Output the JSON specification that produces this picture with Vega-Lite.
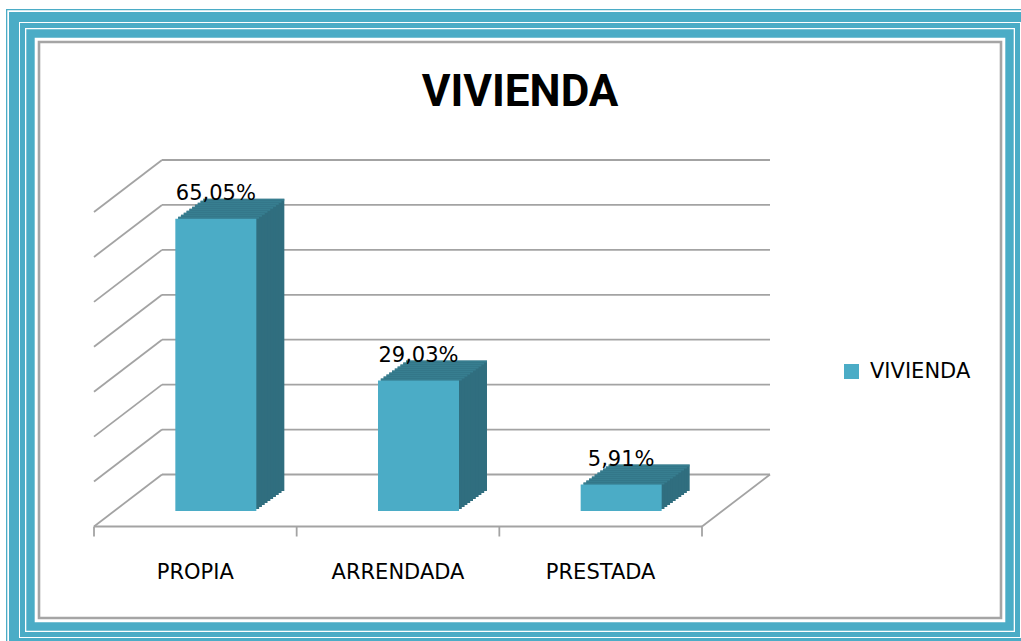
{
  "$schema": "https://vega.github.io/schema/vega-lite/v6.json",
  "width": 1028,
  "height": 642,
  "autosize": {"type": "none"},
  "padding": {"left": 6, "top": 9, "right": -13, "bottom": -10},
  "background": "#FFFFFF",
  "title": {
    "text": "VIVIENDA",
    "font": "Roboto",
    "fontWeight": "bold",
    "fontSize": 44,
    "color": "#000000",
    "anchor": "middle",
    "frame": "group",
    "baseline": "alphabetic",
    "offset": -141
  },
  "config": {
    "view": {"stroke": null},
    "axis": {"disable": true},
    "legend": {
      "orient": "none",
      "legendX": 835,
      "legendY": 352,
      "symbolType": "square",
      "symbolSize": 225,
      "symbolStrokeWidth": 0,
      "labelFont": "DejaVu Sans",
      "labelFontSize": 21,
      "labelColor": "#000000",
      "labelOffset": 8,
      "padding": 0
    }
  },
  "datasets": {
    "bars": [
      {"cat": "PROPIA", "v": 65.05, "label": "65,05%"},
      {"cat": "ARRENDADA", "v": 29.03, "label": "29,03%"},
      {"cat": "PRESTADA", "v": 5.91, "label": "5,91%"}
    ],
    "levels": [{"v": 0}, {"v": 10}, {"v": 20}, {"v": 30}, {"v": 40}, {"v": 50}, {"v": 60}, {"v": 70}],
    "frame": [{"f": 1}]
  },
  "layer": [
    {"data": {"name": "frame"}, "mark": {"type": "rect", "color": "#4BACC6"}, "encoding": {"x": {"value": 0}, "x2": {"value": {"expr": "width"}}, "y": {"value": 0}, "y2": {"value": {"expr": "height"}}}},
    {"data": {"name": "frame"}, "mark": {"type": "rect", "color": "#FFFFFF", "xOffset": 1.3, "x2Offset": -1.3, "yOffset": 1.3, "y2Offset": -1.3}, "encoding": {"x": {"value": 0}, "x2": {"value": {"expr": "width"}}, "y": {"value": 0}, "y2": {"value": {"expr": "height"}}}},
    {"data": {"name": "frame"}, "mark": {"type": "rect", "color": "#4BACC6", "xOffset": 3, "x2Offset": -3, "yOffset": 3, "y2Offset": -3}, "encoding": {"x": {"value": 0}, "x2": {"value": {"expr": "width"}}, "y": {"value": 0}, "y2": {"value": {"expr": "height"}}}},
    {"data": {"name": "frame"}, "mark": {"type": "rect", "color": "#FFFFFF", "xOffset": 13, "x2Offset": -13, "yOffset": 13, "y2Offset": -13}, "encoding": {"x": {"value": 0}, "x2": {"value": {"expr": "width"}}, "y": {"value": 0}, "y2": {"value": {"expr": "height"}}}},
    {"data": {"name": "frame"}, "mark": {"type": "rect", "color": "#4BACC6", "xOffset": 14, "x2Offset": -14, "yOffset": 14, "y2Offset": -14}, "encoding": {"x": {"value": 0}, "x2": {"value": {"expr": "width"}}, "y": {"value": 0}, "y2": {"value": {"expr": "height"}}}},
    {"data": {"name": "frame"}, "mark": {"type": "rect", "color": "#FFFFFF", "xOffset": 19, "x2Offset": -19, "yOffset": 19, "y2Offset": -19}, "encoding": {"x": {"value": 0}, "x2": {"value": {"expr": "width"}}, "y": {"value": 0}, "y2": {"value": {"expr": "height"}}}},
    {"data": {"name": "frame"}, "mark": {"type": "rect", "color": "#4BACC6", "xOffset": 20.3, "x2Offset": -20.3, "yOffset": 20.3, "y2Offset": -20.3}, "encoding": {"x": {"value": 0}, "x2": {"value": {"expr": "width"}}, "y": {"value": 0}, "y2": {"value": {"expr": "height"}}}},
    {"data": {"name": "frame"}, "mark": {"type": "rect", "color": "#FFFFFF", "xOffset": 28.7, "x2Offset": -28.7, "yOffset": 28.7, "y2Offset": -28.7}, "encoding": {"x": {"value": 0}, "x2": {"value": {"expr": "width"}}, "y": {"value": 0}, "y2": {"value": {"expr": "height"}}}},
    {"data": {"name": "frame"}, "mark": {"type": "rect", "color": "#A5A5A5", "xOffset": 31.7, "x2Offset": -31.7, "yOffset": 31.7, "y2Offset": -31.7}, "encoding": {"x": {"value": 0}, "x2": {"value": {"expr": "width"}}, "y": {"value": 0}, "y2": {"value": {"expr": "height"}}}},
    {"data": {"name": "frame"}, "mark": {"type": "rect", "color": "#FFFFFF", "xOffset": 34.3, "x2Offset": -34.3, "yOffset": 34.3, "y2Offset": -34.3}, "encoding": {"x": {"value": 0}, "x2": {"value": {"expr": "width"}}, "y": {"value": 0}, "y2": {"value": {"expr": "height"}}}},
    {
      "data": {"name": "levels"},
      "mark": {"type": "rule", "color": "#A3A3A3", "strokeWidth": 1.8},
      "encoding": {
        "x": {"datum": "PROPIA", "type": "nominal", "bandPosition": 0,
              "scale": {"type": "band", "domain": ["PROPIA", "ARRENDADA", "PRESTADA"], "range": [156, 764], "paddingInner": 0, "paddingOuter": 0}},
        "x2": {"datum": "PRESTADA", "bandPosition": 1},
        "y": {"field": "v", "type": "quantitative", "scale": {"domain": [0, 70], "range": [465.5, 151], "nice": false, "zero": true}}
      }
    },
    {
      "data": {"name": "levels"},
      "mark": {"type": "rule", "color": "#A3A3A3", "strokeWidth": 1.8, "x2Offset": -68, "y2Offset": 52},
      "encoding": {
        "x": {"datum": "PROPIA", "type": "nominal", "bandPosition": 0},
        "x2": {"datum": "PROPIA", "bandPosition": 0},
        "y": {"field": "v", "type": "quantitative"},
        "y2": {"field": "v"}
      }
    },
    {
      "data": {"name": "frame"},
      "mark": {"type": "rule", "color": "#A3A3A3", "strokeWidth": 1.8, "xOffset": -68, "x2Offset": -68, "yOffset": 52},
      "encoding": {
        "x": {"datum": "PROPIA", "type": "nominal", "bandPosition": 0},
        "x2": {"datum": "PRESTADA", "bandPosition": 1},
        "y": {"datum": 0, "type": "quantitative"}
      }
    },
    {
      "data": {"name": "frame"},
      "mark": {"type": "rule", "color": "#A3A3A3", "strokeWidth": 1.8, "x2Offset": -68, "y2Offset": 52},
      "encoding": {
        "x": {"datum": "PRESTADA", "type": "nominal", "bandPosition": 1},
        "x2": {"datum": "PRESTADA", "bandPosition": 1},
        "y": {"datum": 0, "type": "quantitative"},
        "y2": {"datum": 0}
      }
    },
    {
      "data": {"name": "bars"},
      "mark": {"type": "rule", "color": "#A3A3A3", "strokeWidth": 1.8, "xOffset": -68, "yOffset": 52, "y2Offset": 62},
      "encoding": {
        "x": {"field": "cat", "type": "nominal", "bandPosition": 0},
        "y": {"datum": 0, "type": "quantitative"},
        "y2": {"datum": 0}
      }
    },
    {
      "data": {"name": "frame"},
      "mark": {"type": "rule", "color": "#A3A3A3", "strokeWidth": 1.8, "xOffset": -68, "yOffset": 52, "y2Offset": 62},
      "encoding": {
        "x": {"datum": "PRESTADA", "type": "nominal", "bandPosition": 1},
        "y": {"datum": 0, "type": "quantitative"},
        "y2": {"datum": 0}
      }
    },
    {"data": {"name": "bars"}, "mark": {"type": "bar", "color": "#306E7F", "width": 81, "xOffset": -19.5, "x2Offset": -19.5, "yOffset": 16.5, "y2Offset": 16.5}, "encoding": {"x": {"field": "cat", "type": "nominal"}, "y": {"field": "v", "type": "quantitative"}}},
    {"data": {"name": "bars"}, "mark": {"type": "tick", "color": "#3A8497", "size": 81, "thickness": 2, "xOffset": -19.5, "yOffset": 17.5}, "encoding": {"x": {"field": "cat", "type": "nominal"}, "y": {"field": "v", "type": "quantitative"}}},
    {"data": {"name": "bars"}, "mark": {"type": "bar", "color": "#306E7F", "width": 81, "xOffset": -22.3, "x2Offset": -22.3, "yOffset": 18.5, "y2Offset": 18.5}, "encoding": {"x": {"field": "cat", "type": "nominal"}, "y": {"field": "v", "type": "quantitative"}}},
    {"data": {"name": "bars"}, "mark": {"type": "tick", "color": "#3A8497", "size": 81, "thickness": 2, "xOffset": -22.3, "yOffset": 19.5}, "encoding": {"x": {"field": "cat", "type": "nominal"}, "y": {"field": "v", "type": "quantitative"}}},
    {"data": {"name": "bars"}, "mark": {"type": "bar", "color": "#306E7F", "width": 81, "xOffset": -25.1, "x2Offset": -25.1, "yOffset": 20.5, "y2Offset": 20.5}, "encoding": {"x": {"field": "cat", "type": "nominal"}, "y": {"field": "v", "type": "quantitative"}}},
    {"data": {"name": "bars"}, "mark": {"type": "tick", "color": "#3A8497", "size": 81, "thickness": 2, "xOffset": -25.1, "yOffset": 21.5}, "encoding": {"x": {"field": "cat", "type": "nominal"}, "y": {"field": "v", "type": "quantitative"}}},
    {"data": {"name": "bars"}, "mark": {"type": "bar", "color": "#306E7F", "width": 81, "xOffset": -27.9, "x2Offset": -27.9, "yOffset": 22.5, "y2Offset": 22.5}, "encoding": {"x": {"field": "cat", "type": "nominal"}, "y": {"field": "v", "type": "quantitative"}}},
    {"data": {"name": "bars"}, "mark": {"type": "tick", "color": "#3A8497", "size": 81, "thickness": 2, "xOffset": -27.9, "yOffset": 23.5}, "encoding": {"x": {"field": "cat", "type": "nominal"}, "y": {"field": "v", "type": "quantitative"}}},
    {"data": {"name": "bars"}, "mark": {"type": "bar", "color": "#306E7F", "width": 81, "xOffset": -30.7, "x2Offset": -30.7, "yOffset": 24.5, "y2Offset": 24.5}, "encoding": {"x": {"field": "cat", "type": "nominal"}, "y": {"field": "v", "type": "quantitative"}}},
    {"data": {"name": "bars"}, "mark": {"type": "tick", "color": "#3A8497", "size": 81, "thickness": 2, "xOffset": -30.7, "yOffset": 25.5}, "encoding": {"x": {"field": "cat", "type": "nominal"}, "y": {"field": "v", "type": "quantitative"}}},
    {"data": {"name": "bars"}, "mark": {"type": "bar", "color": "#306E7F", "width": 81, "xOffset": -33.5, "x2Offset": -33.5, "yOffset": 26.5, "y2Offset": 26.5}, "encoding": {"x": {"field": "cat", "type": "nominal"}, "y": {"field": "v", "type": "quantitative"}}},
    {"data": {"name": "bars"}, "mark": {"type": "tick", "color": "#3A8497", "size": 81, "thickness": 2, "xOffset": -33.5, "yOffset": 27.5}, "encoding": {"x": {"field": "cat", "type": "nominal"}, "y": {"field": "v", "type": "quantitative"}}},
    {"data": {"name": "bars"}, "mark": {"type": "bar", "color": "#306E7F", "width": 81, "xOffset": -36.3, "x2Offset": -36.3, "yOffset": 28.5, "y2Offset": 28.5}, "encoding": {"x": {"field": "cat", "type": "nominal"}, "y": {"field": "v", "type": "quantitative"}}},
    {"data": {"name": "bars"}, "mark": {"type": "tick", "color": "#3A8497", "size": 81, "thickness": 2, "xOffset": -36.3, "yOffset": 29.5}, "encoding": {"x": {"field": "cat", "type": "nominal"}, "y": {"field": "v", "type": "quantitative"}}},
    {"data": {"name": "bars"}, "mark": {"type": "bar", "color": "#306E7F", "width": 81, "xOffset": -39.1, "x2Offset": -39.1, "yOffset": 30.5, "y2Offset": 30.5}, "encoding": {"x": {"field": "cat", "type": "nominal"}, "y": {"field": "v", "type": "quantitative"}}},
    {"data": {"name": "bars"}, "mark": {"type": "tick", "color": "#3A8497", "size": 81, "thickness": 2, "xOffset": -39.1, "yOffset": 31.5}, "encoding": {"x": {"field": "cat", "type": "nominal"}, "y": {"field": "v", "type": "quantitative"}}},
    {"data": {"name": "bars"}, "mark": {"type": "bar", "color": "#306E7F", "width": 81, "xOffset": -41.9, "x2Offset": -41.9, "yOffset": 32.5, "y2Offset": 32.5}, "encoding": {"x": {"field": "cat", "type": "nominal"}, "y": {"field": "v", "type": "quantitative"}}},
    {"data": {"name": "bars"}, "mark": {"type": "tick", "color": "#3A8497", "size": 81, "thickness": 2, "xOffset": -41.9, "yOffset": 33.5}, "encoding": {"x": {"field": "cat", "type": "nominal"}, "y": {"field": "v", "type": "quantitative"}}},
    {"data": {"name": "bars"}, "mark": {"type": "bar", "color": "#306E7F", "width": 81, "xOffset": -44.7, "x2Offset": -44.7, "yOffset": 34.5, "y2Offset": 34.5}, "encoding": {"x": {"field": "cat", "type": "nominal"}, "y": {"field": "v", "type": "quantitative"}}},
    {"data": {"name": "bars"}, "mark": {"type": "tick", "color": "#3A8497", "size": 81, "thickness": 2, "xOffset": -44.7, "yOffset": 35.5}, "encoding": {"x": {"field": "cat", "type": "nominal"}, "y": {"field": "v", "type": "quantitative"}}},
    {
      "data": {"name": "bars"},
      "mark": {"type": "bar", "width": 81, "xOffset": -47.5, "x2Offset": -47.5, "yOffset": 36.5, "y2Offset": 36.5},
      "encoding": {
        "x": {"field": "cat", "type": "nominal"},
        "y": {"field": "v", "type": "quantitative"},
        "color": {"datum": "VIVIENDA", "type": "nominal", "scale": {"range": ["#4BACC6"]}, "legend": {"title": null}}
      }
    },
    {
      "data": {"name": "bars"},
      "mark": {"type": "text", "font": "DejaVu Sans", "fontSize": 21, "color": "#000000", "baseline": "alphabetic", "align": "center", "xOffset": -47.5, "yOffset": 18},
      "encoding": {
        "x": {"field": "cat", "type": "nominal"},
        "y": {"field": "v", "type": "quantitative"},
        "text": {"field": "label"}
      }
    },
    {
      "data": {"name": "bars"},
      "mark": {"type": "text", "font": "DejaVu Sans", "fontSize": 21, "color": "#000000", "baseline": "alphabetic", "align": "center", "xOffset": -68, "yOffset": 104},
      "encoding": {
        "x": {"field": "cat", "type": "nominal"},
        "y": {"datum": 0, "type": "quantitative"},
        "text": {"field": "cat"}
      }
    }
  ]
}
